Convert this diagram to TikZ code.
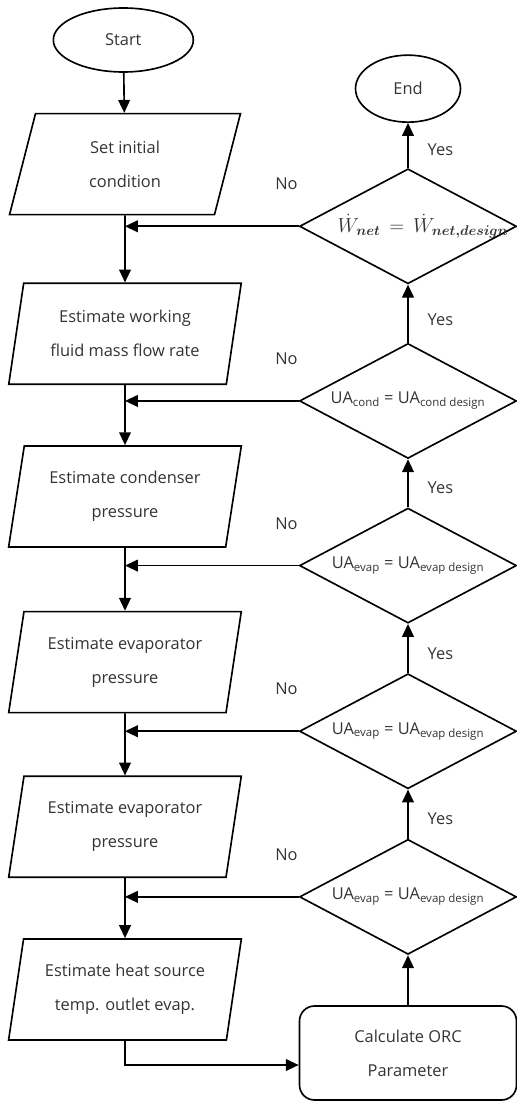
\documentclass[tikz,border=0pt]{standalone}
\usepackage{fontspec}
\setmainfont{Open Sans}
\usepackage{amsmath}
\usepackage{bm}
\usepackage{tikz}
\usetikzlibrary{shapes,arrows,positioning,arrows.meta}
\tikzset{decision/.style={diamond, draw, aspect=1.9, minimum width=6.51cm, minimum height=3.45cm, inner sep=0pt, font=\fontsize{14}{16}\selectfont}}
\tikzset{block/.style={rectangle, draw, rounded corners=0.45cm, minimum width=6.51cm, minimum height=2.82cm, align=center}}
\tikzset{line/.style={draw, -{Triangle[width=10pt,length=11pt]}}}
\tikzstyle{terminal} = [ellipse, draw, inner sep=0pt]
\tikzstyle{io} = [trapezium, trapezium left angle=78, trapezium right angle=102, trapezium stretches=true, minimum width=6.99cm, minimum height=3.03cm, text centered, align=center, draw]

\begin{document}
\begin{tikzpicture}[line width=1.4pt, font=\fontsize{14}{29}\selectfont, text=black!80]
        \useasboundingbox (0,0) rectangle (15.51,-33.09);
        % left column
        \node[terminal, minimum width=4.2cm, minimum height=1.92cm] (init) at (3.7,-1.2) {Start};
        \node[io, below =1.2cm of init, xshift=0.05cm] (setIC){Set initial\\condition};
        \node[io, below =2.01cm of setIC]  (massF){Estimate working\\fluid mass flow rate};
        \node[io, below =1.8cm of massF]   (condP){Estimate condenser\\pressure};
        \node[io, below =1.89cm of condP]  (evapPa){Estimate evaporator\\pressure};
        \node[io, below =1.86cm of evapPa] (evapPb){Estimate evaporator\\pressure};
        \node[io, below =1.8cm of evapPb]  (heatS){Estimate heat source\\temp. outlet evap.};
        % right column
        \node[block] (orc) at (12.24,-31.59) {Calculate ORC\\Parameter};
        \node[decision, above =1.5cm of orc]   (UAe3){UA\textsubscript{evap} = UA\textsubscript{evap design}};
        \node[decision, above =1.47cm of UAe3] (UAe2){UA\textsubscript{evap} = UA\textsubscript{evap design}};
        \node[decision, above =1.47cm of UAe2] (UAe1){UA\textsubscript{evap} = UA\textsubscript{evap design}};
        \node[decision, above =1.44cm of UAe1] (UAc){UA\textsubscript{cond} = UA\textsubscript{cond design}};
        \node[decision, above =1.74cm of UAc]  (Wnet){\makebox[4.5cm]{\hspace*{0.9cm}\fontsize{18}{20}\selectfont$\dot{W}_{\bm{net}} \,=\, \dot{W}_{\bm{net,design}}$}};
        \node[terminal, above =1.35cm of Wnet, minimum width=3.15cm, minimum height=2.01cm] (fin){End};
        \path[line] (init) --   (setIC);
        \path[line] (setIC) --  (massF);
        \path[line] (massF) --  (condP);
        \path[line] (condP) --  (evapPa);
        \path[line] (evapPa) -- (evapPb);
        \path[line] (evapPb) -- (heatS);
        \path[line] (heatS) |- ([yshift=-0.36cm]orc.west);
        \path[line] (orc) --    (UAe3);
        \path[line] (UAe3) -- node[pos=0.4, right=0.45cm]{Yes} (UAe2);
        \path[line] (UAe2) -- node[pos=0.4, right=0.45cm]{Yes} (UAe1);
        \path[line] (UAe1) -- node[pos=0.4, right=0.45cm]{Yes} (UAc);
        \path[line] (UAc) --  node[pos=0.4, right=0.45cm]{Yes} (Wnet);
        \path[line] (Wnet) -- node[pos=0.4, right=0.45cm]{Yes} (fin);
        \path[line] (Wnet) -- node[pos=0.07, above=0.95cm]{No} (Wnet -| setIC);
        \path[line] (UAc) --  node[pos=0.07, above=0.95cm]{No} (UAc -| massF);
        \path[line] (UAe1) -- node[pos=0.07, above=0.95cm]{No} (UAe1 -| condP);
        \path[line] (UAe2) -- node[pos=0.07, above=0.95cm]{No} (UAe2 -| evapPa);
        \path[line] (UAe3) -- node[pos=0.07, above=0.95cm]{No} (UAe3 -| evapPb);
\end{tikzpicture}
\end{document}
